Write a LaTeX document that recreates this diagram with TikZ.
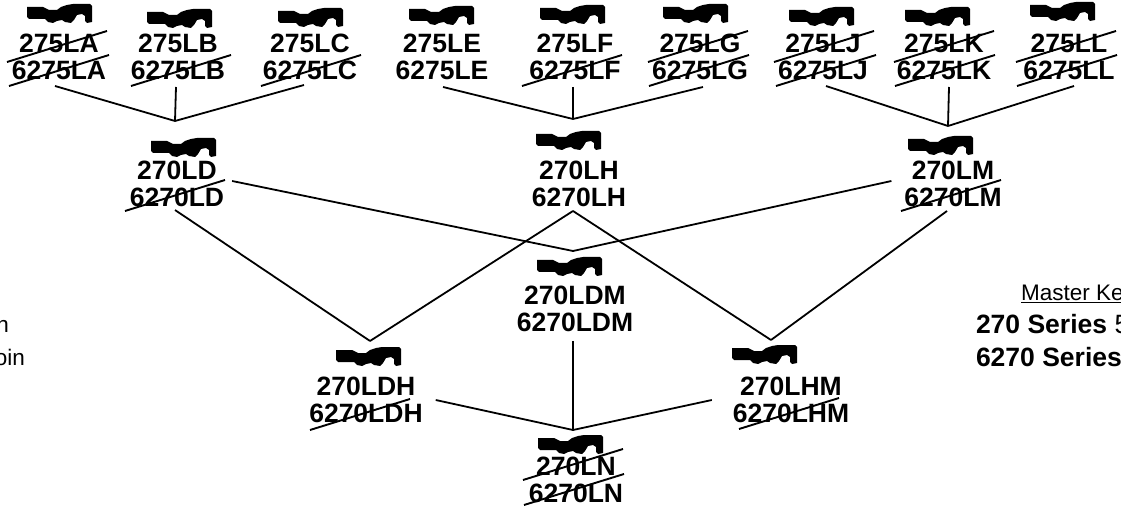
\documentclass[tikz,border=0pt]{standalone}
\usepackage{fontspec}
\setmainfont{Liberation Sans}
\usepackage{tikz}
\usetikzlibrary{positioning}

\tikzset{
partno/.style={font=\fontsize{26.5}{28}\selectfont\bfseries,inner sep=0,outer sep=0,text height=18,text depth=0},
keytext/.style={font=\fontsize{22.5}{24}\selectfont,inner sep=0,outer sep=0},
seriestext/.style={font=\fontsize{26.5}{28}\selectfont,inner sep=0,outer sep=0},
link/.style={line width=1.8pt},
strikeln/.style={line width=1.9pt},
keymark/.pic={
\fill (0,3)--(16,3)--(22,6)--(30,6)--(34,3)--(40,1)--(46,0)--(63,0)--(65,2)--(65,18)--(60,19)
--(58,17)--(58,12)--(55,10)--(50,11)--(47,16)--(44,19)--(38,18)--(35,16)--(30,17)--(26,19)--(21,18)--(18,15)--(2,15)--(0,13)--cycle;
}
}

\begin{document}
\begin{tikzpicture}[x=1pt,y=-1pt]
\useasboundingbox (0,0) rectangle (1121,510);
% top row
\node[partno] (la1) at (59,44) {275LA};
\node[partno] (la2) at (59,71) {6275LA};
\node[partno] (lb1) at (178,44) {275LB};
\node[partno] (lb2) at (178,71) {6275LB};
\node[partno] (lc1) at (310,44) {275LC};
\node[partno] (lc2) at (310,71) {6275LC};
\node[partno] (le1) at (442,44) {275LE};
\node[partno] (le2) at (442,71) {6275LE};
\node[partno] (lf1) at (575,44) {275LF};
\node[partno] (lf2) at (575,71) {6275LF};
\node[partno] (lg1) at (700,44) {275LG};
\node[partno] (lg2) at (700,71) {6275LG};
\node[partno] (lj1) at (823,44) {275LJ};
\node[partno] (lj2) at (823,71) {6275LJ};
\node[partno] (lk1) at (944,44) {275LK};
\node[partno] (lk2) at (944,71) {6275LK};
\node[partno] (ll1) at (1069,44) {275LL};
\node[partno] (ll2) at (1069,71) {6275LL};
% middle rows
\node[partno] (ld1) at (177,171) {270LD};
\node[partno] (ld2) at (177,198) {6270LD};
\node[partno] (lh1) at (579,171) {270LH};
\node[partno] (lh2) at (579,198) {6270LH};
\node[partno] (lm1) at (953,171) {270LM};
\node[partno] (lm2) at (953,198) {6270LM};
\node[partno] (ldm1) at (575,296) {270LDM};
\node[partno] (ldm2) at (575,323) {6270LDM};
\node[partno] (ldh1) at (366,386) {270LDH};
\node[partno] (ldh2) at (366,413) {6270LDH};
\node[partno] (lhm1) at (791,386) {270LHM};
\node[partno] (lhm2) at (791,413) {6270LHM};
\node[partno] (ln1) at (576,466) {270LN};
\node[partno] (ln2) at (576,493) {6270LN};
% key marks
\pic (mla) at (27,4) {keymark};
\pic (mlb) at (147,9) {keymark};
\pic (mlc) at (278,8) {keymark};
\pic (mle) at (409,6) {keymark};
\pic (mlf) at (540,5) {keymark};
\pic (mlg) at (663,4) {keymark};
\pic (mlj) at (789,7) {keymark};
\pic (mlk) at (905,7) {keymark};
\pic (mll) at (1030,2) {keymark};
\pic (mld) at (151,138) {keymark};
\pic (mlh) at (536,131) {keymark};
\pic (mlm) at (908,136) {keymark};
\pic (mldm) at (537,257) {keymark};
\pic (mldh) at (336,347) {keymark};
\pic (mlhm) at (732,345) {keymark};
\pic (mln) at (538,435) {keymark};
% strike lines
\foreach \x/\y in {7/62,9/86,131/86,261/86,522/86,648/62,649/86,774/62,776/86,894/62,895/86,
1016/62,1017/86,125/211,901/211,310/430,739/429,523/480,524/505}
\draw[strikeln] (\x,\y)--++(100,-31);
% junction points
\coordinate (jld) at (175,121);
\coordinate (jlh) at (573,119);
\coordinate (jlm) at (948,126);
\coordinate (jldm) at (573,251);
\coordinate (jldh) at (370,341);
\coordinate (jlhm) at (771,340);
\coordinate (jln) at (573,430);
% links
\draw[link] ([xshift=-4pt,yshift=-6pt]la2.south)--(jld);
\draw[link] ([xshift=-2pt,yshift=-7pt]lb2.south)--(jld);
\draw[link] ([xshift=-6pt,yshift=-5pt]lc2.south)--(jld);
\draw[link] ([xshift=1pt,yshift=-7pt]le2.south)--(jlh);
\draw[link] ([xshift=-2pt,yshift=-7pt]lf2.south)--(jlh);
\draw[link] ([xshift=3pt,yshift=-7pt]lg2.south)--(jlh);
\draw[link] ([xshift=3pt,yshift=-6pt]lj2.south)--(jlm);
\draw[link] ([xshift=5pt,yshift=-7pt]lk2.south)--(jlm);
\draw[link] ([xshift=5pt,yshift=-6pt]ll2.south)--(jlm);
\draw[link] ([xshift=8pt,yshift=17pt]ld2.east)--(jldm);
\draw[link] ([xshift=-13pt,yshift=17pt]lm2.west)--(jldm);
\draw[link] ([xshift=-2pt,yshift=-3pt]ld2.south)--(jldh);
\draw[link] ([xshift=-6pt,yshift=-4pt]lh2.south)--(jldh);
\draw[link] ([xshift=-6pt,yshift=-4pt]lh2.south)--(jlhm);
\draw[link] ([xshift=-6pt,yshift=-4pt]lm2.south)--(jlhm);
\draw[link] ([xshift=13pt,yshift=13pt]ldh2.east)--(jln);
\draw[link] ([xshift=-21pt,yshift=13pt]lhm2.west)--(jln);
\draw[link] ([xshift=-2pt,yshift=-9pt]ldm2.south)--(jln);
% cut off text at the edges
\node[keytext,anchor=base east] (keyn) at (9,333) {n};
\node[keytext,anchor=base east] (keyoin) at (25,365) {oin};
\node[keytext,anchor=base west] (master) at (1021,301) {\underline{Master Ke}};
\node[seriestext,anchor=base west] (ser270) at (976,334) {\textbf{270 Series} 5};
\node[seriestext,anchor=base west] (ser6270) at (976,366) {\textbf{6270 Series}};
\end{tikzpicture}
\end{document}
